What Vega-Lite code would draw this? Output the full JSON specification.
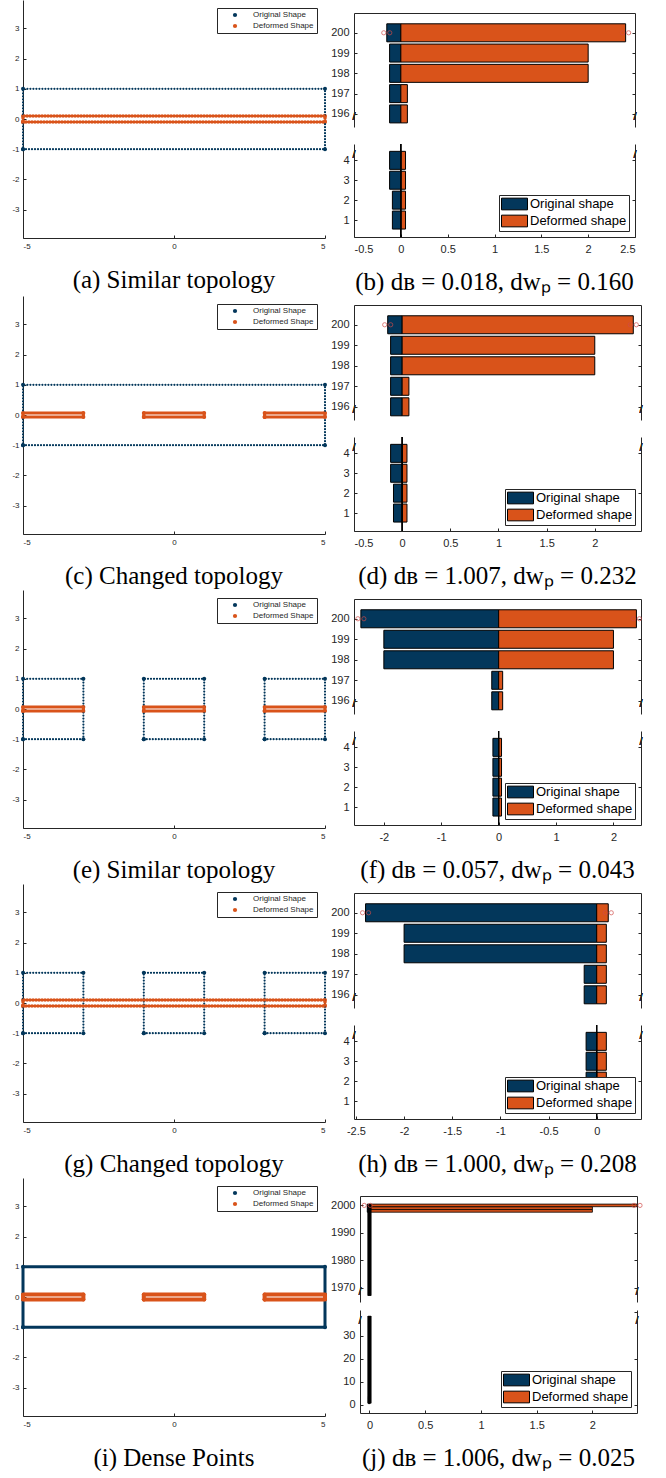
{
"$schema": "https://vega.github.io/schema/vega-lite/v6.json",
"padding": {"left": 11, "top": 0, "right": 0, "bottom": 0},
"background": "white",
"config": {
 "view": {"stroke": null},
 "axis": {"grid": false, "domainColor": "#262626", "tickColor": "#262626", "labelColor": "#262626", "labelFont": "Liberation Sans", "domainWidth": 1, "tickWidth": 1},
 "axisY": {"minExtent": 0},
 "title": {"font": "Liberation Serif", "fontSize": 25, "fontWeight": "normal", "color": "black", "orient": "bottom"},
 "legend": {"title": null},
 "text": {"font": "Liberation Sans", "fontSize": 11, "color": "#262626", "align": "center"}
},
"datasets": {
 "shapes": [
  {"p":"a","s":"Original Shape","g":1,"o":1,"x":-5,"y":-1},{"p":"a","s":"Original Shape","g":1,"o":2,"x":5,"y":-1},{"p":"a","s":"Original Shape","g":1,"o":3,"x":5,"y":1},{"p":"a","s":"Original Shape","g":1,"o":4,"x":-5,"y":1},{"p":"a","s":"Original Shape","g":1,"o":5,"x":-5,"y":-1},
  {"p":"a","s":"Deformed Shape","g":2,"o":1,"x":-5,"y":-0.1},{"p":"a","s":"Deformed Shape","g":2,"o":2,"x":5,"y":-0.1},{"p":"a","s":"Deformed Shape","g":2,"o":3,"x":5,"y":0.1},{"p":"a","s":"Deformed Shape","g":2,"o":4,"x":-5,"y":0.1},{"p":"a","s":"Deformed Shape","g":2,"o":5,"x":-5,"y":-0.1},

  {"p":"c","s":"Original Shape","g":1,"o":1,"x":-5,"y":-1},{"p":"c","s":"Original Shape","g":1,"o":2,"x":5,"y":-1},{"p":"c","s":"Original Shape","g":1,"o":3,"x":5,"y":1},{"p":"c","s":"Original Shape","g":1,"o":4,"x":-5,"y":1},{"p":"c","s":"Original Shape","g":1,"o":5,"x":-5,"y":-1},
  {"p":"c","s":"Deformed Shape","g":2,"o":1,"x":-5,"y":-0.07},{"p":"c","s":"Deformed Shape","g":2,"o":2,"x":-3,"y":-0.07},{"p":"c","s":"Deformed Shape","g":2,"o":3,"x":-3,"y":0.07},{"p":"c","s":"Deformed Shape","g":2,"o":4,"x":-5,"y":0.07},{"p":"c","s":"Deformed Shape","g":2,"o":5,"x":-5,"y":-0.07},
  {"p":"c","s":"Deformed Shape","g":3,"o":1,"x":-1,"y":-0.07},{"p":"c","s":"Deformed Shape","g":3,"o":2,"x":1,"y":-0.07},{"p":"c","s":"Deformed Shape","g":3,"o":3,"x":1,"y":0.07},{"p":"c","s":"Deformed Shape","g":3,"o":4,"x":-1,"y":0.07},{"p":"c","s":"Deformed Shape","g":3,"o":5,"x":-1,"y":-0.07},
  {"p":"c","s":"Deformed Shape","g":4,"o":1,"x":3,"y":-0.07},{"p":"c","s":"Deformed Shape","g":4,"o":2,"x":5,"y":-0.07},{"p":"c","s":"Deformed Shape","g":4,"o":3,"x":5,"y":0.07},{"p":"c","s":"Deformed Shape","g":4,"o":4,"x":3,"y":0.07},{"p":"c","s":"Deformed Shape","g":4,"o":5,"x":3,"y":-0.07},

  {"p":"e","s":"Original Shape","g":1,"o":1,"x":-5,"y":-1},{"p":"e","s":"Original Shape","g":1,"o":2,"x":-3,"y":-1},{"p":"e","s":"Original Shape","g":1,"o":3,"x":-3,"y":1},{"p":"e","s":"Original Shape","g":1,"o":4,"x":-5,"y":1},{"p":"e","s":"Original Shape","g":1,"o":5,"x":-5,"y":-1},
  {"p":"e","s":"Original Shape","g":2,"o":1,"x":-1,"y":-1},{"p":"e","s":"Original Shape","g":2,"o":2,"x":1,"y":-1},{"p":"e","s":"Original Shape","g":2,"o":3,"x":1,"y":1},{"p":"e","s":"Original Shape","g":2,"o":4,"x":-1,"y":1},{"p":"e","s":"Original Shape","g":2,"o":5,"x":-1,"y":-1},
  {"p":"e","s":"Original Shape","g":3,"o":1,"x":3,"y":-1},{"p":"e","s":"Original Shape","g":3,"o":2,"x":5,"y":-1},{"p":"e","s":"Original Shape","g":3,"o":3,"x":5,"y":1},{"p":"e","s":"Original Shape","g":3,"o":4,"x":3,"y":1},{"p":"e","s":"Original Shape","g":3,"o":5,"x":3,"y":-1},
  {"p":"e","s":"Deformed Shape","g":4,"o":1,"x":-5,"y":-0.07},{"p":"e","s":"Deformed Shape","g":4,"o":2,"x":-3,"y":-0.07},{"p":"e","s":"Deformed Shape","g":4,"o":3,"x":-3,"y":0.07},{"p":"e","s":"Deformed Shape","g":4,"o":4,"x":-5,"y":0.07},{"p":"e","s":"Deformed Shape","g":4,"o":5,"x":-5,"y":-0.07},
  {"p":"e","s":"Deformed Shape","g":5,"o":1,"x":-1,"y":-0.07},{"p":"e","s":"Deformed Shape","g":5,"o":2,"x":1,"y":-0.07},{"p":"e","s":"Deformed Shape","g":5,"o":3,"x":1,"y":0.07},{"p":"e","s":"Deformed Shape","g":5,"o":4,"x":-1,"y":0.07},{"p":"e","s":"Deformed Shape","g":5,"o":5,"x":-1,"y":-0.07},
  {"p":"e","s":"Deformed Shape","g":6,"o":1,"x":3,"y":-0.07},{"p":"e","s":"Deformed Shape","g":6,"o":2,"x":5,"y":-0.07},{"p":"e","s":"Deformed Shape","g":6,"o":3,"x":5,"y":0.07},{"p":"e","s":"Deformed Shape","g":6,"o":4,"x":3,"y":0.07},{"p":"e","s":"Deformed Shape","g":6,"o":5,"x":3,"y":-0.07},

  {"p":"g","s":"Original Shape","g":1,"o":1,"x":-5,"y":-1},{"p":"g","s":"Original Shape","g":1,"o":2,"x":-3,"y":-1},{"p":"g","s":"Original Shape","g":1,"o":3,"x":-3,"y":1},{"p":"g","s":"Original Shape","g":1,"o":4,"x":-5,"y":1},{"p":"g","s":"Original Shape","g":1,"o":5,"x":-5,"y":-1},
  {"p":"g","s":"Original Shape","g":2,"o":1,"x":-1,"y":-1},{"p":"g","s":"Original Shape","g":2,"o":2,"x":1,"y":-1},{"p":"g","s":"Original Shape","g":2,"o":3,"x":1,"y":1},{"p":"g","s":"Original Shape","g":2,"o":4,"x":-1,"y":1},{"p":"g","s":"Original Shape","g":2,"o":5,"x":-1,"y":-1},
  {"p":"g","s":"Original Shape","g":3,"o":1,"x":3,"y":-1},{"p":"g","s":"Original Shape","g":3,"o":2,"x":5,"y":-1},{"p":"g","s":"Original Shape","g":3,"o":3,"x":5,"y":1},{"p":"g","s":"Original Shape","g":3,"o":4,"x":3,"y":1},{"p":"g","s":"Original Shape","g":3,"o":5,"x":3,"y":-1},
  {"p":"g","s":"Deformed Shape","g":4,"o":1,"x":-5,"y":-0.1},{"p":"g","s":"Deformed Shape","g":4,"o":2,"x":5,"y":-0.1},{"p":"g","s":"Deformed Shape","g":4,"o":3,"x":5,"y":0.1},{"p":"g","s":"Deformed Shape","g":4,"o":4,"x":-5,"y":0.1},{"p":"g","s":"Deformed Shape","g":4,"o":5,"x":-5,"y":-0.1},

  {"p":"i","s":"Original Shape","g":1,"o":1,"x":-5,"y":-1},{"p":"i","s":"Original Shape","g":1,"o":2,"x":5,"y":-1},{"p":"i","s":"Original Shape","g":1,"o":3,"x":5,"y":1},{"p":"i","s":"Original Shape","g":1,"o":4,"x":-5,"y":1},{"p":"i","s":"Original Shape","g":1,"o":5,"x":-5,"y":-1},
  {"p":"i","s":"Deformed Shape","g":2,"o":1,"x":-5,"y":-0.08},{"p":"i","s":"Deformed Shape","g":2,"o":2,"x":-3,"y":-0.08},{"p":"i","s":"Deformed Shape","g":2,"o":3,"x":-3,"y":0.08},{"p":"i","s":"Deformed Shape","g":2,"o":4,"x":-5,"y":0.08},{"p":"i","s":"Deformed Shape","g":2,"o":5,"x":-5,"y":-0.08},
  {"p":"i","s":"Deformed Shape","g":3,"o":1,"x":-1,"y":-0.08},{"p":"i","s":"Deformed Shape","g":3,"o":2,"x":1,"y":-0.08},{"p":"i","s":"Deformed Shape","g":3,"o":3,"x":1,"y":0.08},{"p":"i","s":"Deformed Shape","g":3,"o":4,"x":-1,"y":0.08},{"p":"i","s":"Deformed Shape","g":3,"o":5,"x":-1,"y":-0.08},
  {"p":"i","s":"Deformed Shape","g":4,"o":1,"x":3,"y":-0.08},{"p":"i","s":"Deformed Shape","g":4,"o":2,"x":5,"y":-0.08},{"p":"i","s":"Deformed Shape","g":4,"o":3,"x":5,"y":0.08},{"p":"i","s":"Deformed Shape","g":4,"o":4,"x":3,"y":0.08},{"p":"i","s":"Deformed Shape","g":4,"o":5,"x":3,"y":-0.08}
 ],
 "bars": [
  {"p":"b","i":200,"Original shape":-0.15,"Deformed shape":2.4},{"p":"b","i":199,"Original shape":-0.12,"Deformed shape":2.0},{"p":"b","i":198,"Original shape":-0.12,"Deformed shape":2.0},{"p":"b","i":197,"Original shape":-0.12,"Deformed shape":0.07},{"p":"b","i":196,"Original shape":-0.12,"Deformed shape":0.07},
  {"p":"b","i":4,"Original shape":-0.12,"Deformed shape":0.05},{"p":"b","i":3,"Original shape":-0.12,"Deformed shape":0.05},{"p":"b","i":2,"Original shape":-0.09,"Deformed shape":0.05},{"p":"b","i":1,"Original shape":-0.09,"Deformed shape":0.05},
  {"p":"d","i":200,"Original shape":-0.15,"Deformed shape":2.4},{"p":"d","i":199,"Original shape":-0.12,"Deformed shape":2.0},{"p":"d","i":198,"Original shape":-0.12,"Deformed shape":2.0},{"p":"d","i":197,"Original shape":-0.12,"Deformed shape":0.07},{"p":"d","i":196,"Original shape":-0.12,"Deformed shape":0.07},
  {"p":"d","i":4,"Original shape":-0.12,"Deformed shape":0.05},{"p":"d","i":3,"Original shape":-0.12,"Deformed shape":0.05},{"p":"d","i":2,"Original shape":-0.09,"Deformed shape":0.05},{"p":"d","i":1,"Original shape":-0.09,"Deformed shape":0.05},
  {"p":"f","i":200,"Original shape":-2.4,"Deformed shape":2.4},{"p":"f","i":199,"Original shape":-2.0,"Deformed shape":2.0},{"p":"f","i":198,"Original shape":-2.0,"Deformed shape":2.0},{"p":"f","i":197,"Original shape":-0.12,"Deformed shape":0.07},{"p":"f","i":196,"Original shape":-0.12,"Deformed shape":0.07},
  {"p":"f","i":4,"Original shape":-0.1,"Deformed shape":0.05},{"p":"f","i":3,"Original shape":-0.1,"Deformed shape":0.05},{"p":"f","i":2,"Original shape":-0.1,"Deformed shape":0.05},{"p":"f","i":1,"Original shape":-0.1,"Deformed shape":0.05},
  {"p":"h","i":200,"Original shape":-2.4,"Deformed shape":0.12},{"p":"h","i":199,"Original shape":-2.0,"Deformed shape":0.1},{"p":"h","i":198,"Original shape":-2.0,"Deformed shape":0.1},{"p":"h","i":197,"Original shape":-0.13,"Deformed shape":0.1},{"p":"h","i":196,"Original shape":-0.13,"Deformed shape":0.1},
  {"p":"h","i":4,"Original shape":-0.11,"Deformed shape":0.1},{"p":"h","i":3,"Original shape":-0.11,"Deformed shape":0.1},{"p":"h","i":2,"Original shape":-0.11,"Deformed shape":0.1},{"p":"h","i":1,"Original shape":-0.11,"Deformed shape":0.1},
  {"p":"j","i":2000,"Original shape":-0.02,"Deformed shape":2.4},{"p":"j","i":1999,"Original shape":-0.02,"Deformed shape":2.0},{"p":"j","i":1998,"Original shape":-0.02,"Deformed shape":2.0},
  {"p":"j","i":3,"Original shape":-0.01,"Deformed shape":0.005},{"p":"j","i":2,"Original shape":-0.01,"Deformed shape":0.005},{"p":"j","i":1,"Original shape":-0.01,"Deformed shape":0.005}
 ]
},
"resolve": {"scale": {"x": "independent", "y": "independent", "color": "independent"}, "legend": {"color": "independent"}},
"spacing": 1,
"vconcat": [
 {
  "resolve": {"scale": {"x": "independent", "y": "independent", "color": "independent"}, "legend": {"color": "independent"}},
  "spacing": 3,
  "hconcat": [
   {
    "width": 302, "height": 238,
    "title": {"text": "(a) Similar topology", "offset": 18},
    "data": {"name": "shapes"},
    "transform": [{"filter": "datum.p==='a'"}],
    "encoding": {
     "x": {"field": "x", "type": "quantitative", "scale": {"domain": [-5, 5], "nice": false, "zero": false}, "axis": {"values": [-5, 0, 5], "title": null, "labelFontSize": 8, "tickSize": -3, "labelPadding": 7, "labelExpr": "replace(datum.label,'−','-')"}},
     "y": {"field": "y", "type": "quantitative", "scale": {"domain": [-3.94, 3.94], "nice": false, "zero": false}, "axis": {"values": [-3, -2, -1, 0, 1, 2, 3], "title": null, "labelFontSize": 8, "tickSize": -3, "labelPadding": 7, "labelExpr": "replace(datum.label,'−','-')"}}
    },
    "layer": [
     {"mark": {"type": "point", "filled": true, "size": 16, "opacity": 1}, "encoding": {"color": {"field": "s", "type": "nominal", "scale": {"domain": ["Original Shape", "Deformed Shape"], "range": ["#03375b", "#d9531a"]}, "legend": {"orient": "top-right", "offset": 8, "symbolType": "circle", "symbolSize": 18, "labelFontSize": 8, "labelFont": "Liberation Sans", "labelColor": "#262626", "symbolOffset": 11, "labelOffset": 14, "rowPadding": 3, "padding": 3, "strokeColor": "#262626", "fillColor": "white"}}}},
     {"transform": [{"filter": "datum.s==='Original Shape'"}], "mark": {"type": "line", "color": "#03375b", "strokeWidth": 2.2, "strokeDash": [0, 3], "strokeCap": "round", "strokeJoin": "round"}, "encoding": {"detail": {"field": "g", "type": "nominal"}, "order": {"field": "o", "type": "quantitative"}}},
     {"transform": [{"filter": "datum.s==='Deformed Shape'"}], "mark": {"type": "line", "color": "#d9531a", "strokeWidth": 3.5, "strokeDash": [0, 3], "strokeCap": "round", "strokeJoin": "round"}, "encoding": {"detail": {"field": "g", "type": "nominal"}, "order": {"field": "o", "type": "quantitative"}}}
    ]
   },
   {
    "resolve": {"scale": {"x": "independent", "y": "independent", "color": "independent"}, "legend": {"color": "independent"}},
    "spacing": 16,
    "vconcat": [
     {
      "width": 281, "height": 127,
      "data": {"name": "bars"},
      "transform": [{"filter": "datum.p==='b' && datum.i>100"}],
      "layer": [
       {"mark": {"type": "bar", "size": 18, "stroke": "black", "strokeWidth": 1}, "encoding": {
         "y": {"field": "i", "type": "quantitative", "scale": {"domain": [195.6, 200.73], "range": [127, 13], "nice": false, "zero": false}, "axis": {"orient": "left", "values": [196, 197, 198, 199, 200], "format": "d", "title": null, "labelFontSize": 11, "tickSize": -3, "labelPadding": 8}},
         "x": {"field": "Original shape", "type": "quantitative", "scale": {"domain": [-0.5, 2.5], "nice": false, "zero": false}, "axis": {"orient": "top", "labels": false, "ticks": false, "title": null, "offset": -13, "minExtent": 0}},
         "x2": {"datum": 0},
         "color": {"datum": "Original shape", "scale": {"domain": ["Original shape", "Deformed shape"], "range": ["#03375b", "#d9531a"]}, "legend": null}}},
       {"mark": {"type": "bar", "size": 18, "stroke": "black", "strokeWidth": 1}, "encoding": {
         "y": {"field": "i", "type": "quantitative", "axis": {"orient": "right", "labels": false, "title": null, "tickSize": -3}},
         "x": {"field": "Deformed shape", "type": "quantitative", "axis": null},
         "x2": {"datum": 0},
         "color": {"datum": "Deformed shape", "legend": null}}},
       {"transform": [{"filter": "datum.i===200 || datum.i===2000"}, {"fold": ["Original shape", "Deformed shape"], "as": ["k", "v"]}], "mark": {"type": "point", "shape": "circle", "filled": false, "size": 18, "color": "#d24b48", "strokeWidth": 1, "xOffset": -3}, "encoding": {"x": {"field": "v", "type": "quantitative", "axis": null}, "y": {"field": "i", "type": "quantitative", "axis": null}}},
       {"transform": [{"filter": "datum.i===200 || datum.i===2000"}, {"fold": ["Original shape", "Deformed shape"], "as": ["k", "v"]}], "mark": {"type": "point", "shape": "circle", "filled": false, "size": 18, "color": "#d24b48", "strokeWidth": 1, "xOffset": 3}, "encoding": {"x": {"field": "v", "type": "quantitative", "axis": null}, "y": {"field": "i", "type": "quantitative", "axis": null}}},
       {"mark": {"type": "text", "text": "/", "baseline": "bottom"}, "encoding": {"x": {"datum": -0.5, "type": "quantitative", "axis": null}, "y": {"datum": 195.6, "type": "quantitative", "axis": null}}},
       {"mark": {"type": "text", "text": "/", "baseline": "bottom"}, "encoding": {"x": {"datum": 2.5, "type": "quantitative", "axis": null}, "y": {"datum": 195.6, "type": "quantitative", "axis": null}}}
      ],
      "resolve": {"axis": {"x": "independent", "y": "independent"}}
     },
     {
      "width": 281, "height": 93,
      "title": {"text": "(b) dʙ = 0.018,  dᴡₚ = 0.160", "offset": 16},
      "data": {"name": "bars"},
      "transform": [{"filter": "datum.p==='b' && datum.i<100"}],
      "layer": [
       {"mark": {"type": "bar", "size": 18, "stroke": "black", "strokeWidth": 1}, "encoding": {
         "y": {"field": "i", "type": "quantitative", "scale": {"domain": [0.4, 4.57], "nice": false, "zero": false}, "axis": {"orient": "left", "values": [1, 2, 3, 4], "format": "d", "title": null, "labelFontSize": 11, "tickSize": -3, "labelPadding": 8}},
         "x": {"field": "Original shape", "type": "quantitative", "scale": {"domain": [-0.5, 2.5], "nice": false, "zero": false}, "axis": {"orient": "bottom", "values": [-0.5, 0, 0.5, 1, 1.5, 2, 2.5], "format": "~g", "title": null, "labelFontSize": 11, "tickSize": -3, "labelPadding": 9, "labelExpr": "replace(datum.label,'−','-')"}},
         "x2": {"datum": 0},
         "color": {"datum": "Original shape", "scale": {"domain": ["Original shape", "Deformed shape"], "range": ["#03375b", "#d9531a"]}, "legend": {"orient": "bottom-right", "offset": 6, "symbolType": "M-2,-0.9H2V0.9H-2Z", "symbolSize": 169, "symbolOffset": 6.5, "symbolStrokeColor": "black", "symbolStrokeWidth": 1, "labelFontSize": 13, "labelFont": "Liberation Sans", "labelColor": "black", "labelOffset": 8.5, "rowPadding": 1, "padding": 2, "strokeColor": "#262626", "fillColor": "white"}}}},
       {"mark": {"type": "bar", "size": 18, "stroke": "black", "strokeWidth": 1}, "encoding": {
         "y": {"field": "i", "type": "quantitative", "axis": {"orient": "right", "labels": false, "title": null, "tickSize": -3}},
         "x": {"field": "Deformed shape", "type": "quantitative", "axis": null},
         "x2": {"datum": 0},
         "color": {"datum": "Deformed shape"}}},
       {"mark": {"type": "rule", "color": "black", "strokeWidth": 1}, "encoding": {"x": {"datum": 0, "type": "quantitative", "axis": null}}},
       {"mark": {"type": "text", "text": "/", "baseline": "top"}, "encoding": {"x": {"datum": -0.5, "type": "quantitative", "axis": null}, "y": {"datum": 4.57, "type": "quantitative", "axis": null}}},
       {"mark": {"type": "text", "text": "/", "baseline": "top"}, "encoding": {"x": {"datum": 2.5, "type": "quantitative", "axis": null}, "y": {"datum": 4.57, "type": "quantitative", "axis": null}}}
      ],
      "resolve": {"axis": {"x": "independent", "y": "independent"}}
     }
    ]
   }
  ]
 },
 {
  "resolve": {"scale": {"x": "independent", "y": "independent", "color": "independent"}, "legend": {"color": "independent"}},
  "spacing": 3,
  "hconcat": [
   {
    "width": 302, "height": 238,
    "title": {"text": "(c) Changed topology", "offset": 18},
    "data": {"name": "shapes"},
    "transform": [{"filter": "datum.p==='c'"}],
    "encoding": {
     "x": {"field": "x", "type": "quantitative", "scale": {"domain": [-5, 5], "nice": false, "zero": false}, "axis": {"values": [-5, 0, 5], "title": null, "labelFontSize": 8, "tickSize": -3, "labelPadding": 7, "labelExpr": "replace(datum.label,'−','-')"}},
     "y": {"field": "y", "type": "quantitative", "scale": {"domain": [-3.94, 3.94], "nice": false, "zero": false}, "axis": {"values": [-3, -2, -1, 0, 1, 2, 3], "title": null, "labelFontSize": 8, "tickSize": -3, "labelPadding": 7, "labelExpr": "replace(datum.label,'−','-')"}}
    },
    "layer": [
     {"mark": {"type": "point", "filled": true, "size": 16, "opacity": 1}, "encoding": {"color": {"field": "s", "type": "nominal", "scale": {"domain": ["Original Shape", "Deformed Shape"], "range": ["#03375b", "#d9531a"]}, "legend": {"orient": "top-right", "offset": 8, "symbolType": "circle", "symbolSize": 18, "labelFontSize": 8, "labelFont": "Liberation Sans", "labelColor": "#262626", "symbolOffset": 11, "labelOffset": 14, "rowPadding": 3, "padding": 3, "strokeColor": "#262626", "fillColor": "white"}}}},
     {"transform": [{"filter": "datum.s==='Original Shape'"}], "mark": {"type": "line", "color": "#03375b", "strokeWidth": 2.2, "strokeDash": [0, 3], "strokeCap": "round", "strokeJoin": "round"}, "encoding": {"detail": {"field": "g", "type": "nominal"}, "order": {"field": "o", "type": "quantitative"}}},
     {"transform": [{"filter": "datum.s==='Deformed Shape'"}], "mark": {"type": "line", "color": "#d9531a", "strokeWidth": 3, "strokeCap": "round", "strokeJoin": "round"}, "encoding": {"detail": {"field": "g", "type": "nominal"}, "order": {"field": "o", "type": "quantitative"}}}
    ]
   },
   {
    "resolve": {"scale": {"x": "independent", "y": "independent", "color": "independent"}, "legend": {"color": "independent"}},
    "spacing": 16,
    "vconcat": [
     {
      "width": 287, "height": 124,
      "data": {"name": "bars"},
      "transform": [{"filter": "datum.p==='d' && datum.i>100"}],
      "layer": [
       {"mark": {"type": "bar", "size": 18, "stroke": "black", "strokeWidth": 1}, "encoding": {
         "y": {"field": "i", "type": "quantitative", "scale": {"domain": [195.6, 200.72], "range": [124, 9], "nice": false, "zero": false}, "axis": {"orient": "left", "values": [196, 197, 198, 199, 200], "format": "d", "title": null, "labelFontSize": 11, "tickSize": -3, "labelPadding": 8}},
         "x": {"field": "Original shape", "type": "quantitative", "scale": {"domain": [-0.5, 2.48], "nice": false, "zero": false}, "axis": {"orient": "top", "labels": false, "ticks": false, "title": null, "offset": -9, "minExtent": 0}},
         "x2": {"datum": 0},
         "color": {"datum": "Original shape", "scale": {"domain": ["Original shape", "Deformed shape"], "range": ["#03375b", "#d9531a"]}, "legend": null}}},
       {"mark": {"type": "bar", "size": 18, "stroke": "black", "strokeWidth": 1}, "encoding": {
         "y": {"field": "i", "type": "quantitative", "axis": {"orient": "right", "labels": false, "title": null, "tickSize": -3}},
         "x": {"field": "Deformed shape", "type": "quantitative", "axis": null},
         "x2": {"datum": 0},
         "color": {"datum": "Deformed shape", "legend": null}}},
       {"transform": [{"filter": "datum.i===200 || datum.i===2000"}, {"fold": ["Original shape", "Deformed shape"], "as": ["k", "v"]}], "mark": {"type": "point", "shape": "circle", "filled": false, "size": 18, "color": "#d24b48", "strokeWidth": 1, "xOffset": -3}, "encoding": {"x": {"field": "v", "type": "quantitative", "axis": null}, "y": {"field": "i", "type": "quantitative", "axis": null}}},
       {"transform": [{"filter": "datum.i===200 || datum.i===2000"}, {"fold": ["Original shape", "Deformed shape"], "as": ["k", "v"]}], "mark": {"type": "point", "shape": "circle", "filled": false, "size": 18, "color": "#d24b48", "strokeWidth": 1, "xOffset": 3}, "encoding": {"x": {"field": "v", "type": "quantitative", "axis": null}, "y": {"field": "i", "type": "quantitative", "axis": null}}},
       {"mark": {"type": "text", "text": "/", "baseline": "bottom"}, "encoding": {"x": {"datum": -0.5, "type": "quantitative", "axis": null}, "y": {"datum": 195.6, "type": "quantitative", "axis": null}}},
       {"mark": {"type": "text", "text": "/", "baseline": "bottom"}, "encoding": {"x": {"datum": 2.48, "type": "quantitative", "axis": null}, "y": {"datum": 195.6, "type": "quantitative", "axis": null}}}
      ],
      "resolve": {"axis": {"x": "independent", "y": "independent"}}
     },
     {
      "width": 287, "height": 94,
      "title": {"text": "(d) dʙ = 1.007,  dᴡₚ = 0.232", "offset": 16},
      "data": {"name": "bars"},
      "transform": [{"filter": "datum.p==='d' && datum.i<100"}],
      "layer": [
       {"mark": {"type": "bar", "size": 18, "stroke": "black", "strokeWidth": 1}, "encoding": {
         "y": {"field": "i", "type": "quantitative", "scale": {"domain": [0.35, 4.57], "nice": false, "zero": false}, "axis": {"orient": "left", "values": [1, 2, 3, 4], "format": "d", "title": null, "labelFontSize": 11, "tickSize": -3, "labelPadding": 8}},
         "x": {"field": "Original shape", "type": "quantitative", "scale": {"domain": [-0.5, 2.48], "nice": false, "zero": false}, "axis": {"orient": "bottom", "values": [-0.5, 0, 0.5, 1, 1.5, 2], "format": "~g", "title": null, "labelFontSize": 11, "tickSize": -3, "labelPadding": 9, "labelExpr": "replace(datum.label,'−','-')"}},
         "x2": {"datum": 0},
         "color": {"datum": "Original shape", "scale": {"domain": ["Original shape", "Deformed shape"], "range": ["#03375b", "#d9531a"]}, "legend": {"orient": "bottom-right", "offset": 6, "symbolType": "M-2,-0.9H2V0.9H-2Z", "symbolSize": 169, "symbolOffset": 6.5, "symbolStrokeColor": "black", "symbolStrokeWidth": 1, "labelFontSize": 13, "labelFont": "Liberation Sans", "labelColor": "black", "labelOffset": 8.5, "rowPadding": 1, "padding": 2, "strokeColor": "#262626", "fillColor": "white"}}}},
       {"mark": {"type": "bar", "size": 18, "stroke": "black", "strokeWidth": 1}, "encoding": {
         "y": {"field": "i", "type": "quantitative", "axis": {"orient": "right", "labels": false, "title": null, "tickSize": -3}},
         "x": {"field": "Deformed shape", "type": "quantitative", "axis": null},
         "x2": {"datum": 0},
         "color": {"datum": "Deformed shape"}}},
       {"mark": {"type": "rule", "color": "black", "strokeWidth": 1}, "encoding": {"x": {"datum": 0, "type": "quantitative", "axis": null}}},
       {"mark": {"type": "text", "text": "/", "baseline": "top"}, "encoding": {"x": {"datum": -0.5, "type": "quantitative", "axis": null}, "y": {"datum": 4.57, "type": "quantitative", "axis": null}}},
       {"mark": {"type": "text", "text": "/", "baseline": "top"}, "encoding": {"x": {"datum": 2.48, "type": "quantitative", "axis": null}, "y": {"datum": 4.57, "type": "quantitative", "axis": null}}}
      ],
      "resolve": {"axis": {"x": "independent", "y": "independent"}}
     }
    ]
   }
  ]
 },
 {
  "resolve": {"scale": {"x": "independent", "y": "independent", "color": "independent"}, "legend": {"color": "independent"}},
  "spacing": 3,
  "hconcat": [
   {
    "width": 302, "height": 238,
    "title": {"text": "(e) Similar topology", "offset": 18},
    "data": {"name": "shapes"},
    "transform": [{"filter": "datum.p==='e'"}],
    "encoding": {
     "x": {"field": "x", "type": "quantitative", "scale": {"domain": [-5, 5], "nice": false, "zero": false}, "axis": {"values": [-5, 0, 5], "title": null, "labelFontSize": 8, "tickSize": -3, "labelPadding": 7, "labelExpr": "replace(datum.label,'−','-')"}},
     "y": {"field": "y", "type": "quantitative", "scale": {"domain": [-3.94, 3.94], "nice": false, "zero": false}, "axis": {"values": [-3, -2, -1, 0, 1, 2, 3], "title": null, "labelFontSize": 8, "tickSize": -3, "labelPadding": 7, "labelExpr": "replace(datum.label,'−','-')"}}
    },
    "layer": [
     {"mark": {"type": "point", "filled": true, "size": 16, "opacity": 1}, "encoding": {"color": {"field": "s", "type": "nominal", "scale": {"domain": ["Original Shape", "Deformed Shape"], "range": ["#03375b", "#d9531a"]}, "legend": {"orient": "top-right", "offset": 8, "symbolType": "circle", "symbolSize": 18, "labelFontSize": 8, "labelFont": "Liberation Sans", "labelColor": "#262626", "symbolOffset": 11, "labelOffset": 14, "rowPadding": 3, "padding": 3, "strokeColor": "#262626", "fillColor": "white"}}}},
     {"transform": [{"filter": "datum.s==='Original Shape'"}], "mark": {"type": "line", "color": "#03375b", "strokeWidth": 2.2, "strokeDash": [0, 3], "strokeCap": "round", "strokeJoin": "round"}, "encoding": {"detail": {"field": "g", "type": "nominal"}, "order": {"field": "o", "type": "quantitative"}}},
     {"transform": [{"filter": "datum.s==='Deformed Shape'"}], "mark": {"type": "line", "color": "#d9531a", "strokeWidth": 3, "strokeCap": "round", "strokeJoin": "round"}, "encoding": {"detail": {"field": "g", "type": "nominal"}, "order": {"field": "o", "type": "quantitative"}}}
    ]
   },
   {
    "resolve": {"scale": {"x": "independent", "y": "independent", "color": "independent"}, "legend": {"color": "independent"}},
    "spacing": 16,
    "vconcat": [
     {
      "width": 287, "height": 124,
      "data": {"name": "bars"},
      "transform": [{"filter": "datum.p==='f' && datum.i>100"}],
      "layer": [
       {"mark": {"type": "bar", "size": 18, "stroke": "black", "strokeWidth": 1}, "encoding": {
         "y": {"field": "i", "type": "quantitative", "scale": {"domain": [195.6, 200.72], "range": [124, 9], "nice": false, "zero": false}, "axis": {"orient": "left", "values": [196, 197, 198, 199, 200], "format": "d", "title": null, "labelFontSize": 11, "tickSize": -3, "labelPadding": 8}},
         "x": {"field": "Original shape", "type": "quantitative", "scale": {"domain": [-2.52, 2.48], "nice": false, "zero": false}, "axis": {"orient": "top", "labels": false, "ticks": false, "title": null, "offset": -9, "minExtent": 0}},
         "x2": {"datum": 0},
         "color": {"datum": "Original shape", "scale": {"domain": ["Original shape", "Deformed shape"], "range": ["#03375b", "#d9531a"]}, "legend": null}}},
       {"mark": {"type": "bar", "size": 18, "stroke": "black", "strokeWidth": 1}, "encoding": {
         "y": {"field": "i", "type": "quantitative", "axis": {"orient": "right", "labels": false, "title": null, "tickSize": -3}},
         "x": {"field": "Deformed shape", "type": "quantitative", "axis": null},
         "x2": {"datum": 0},
         "color": {"datum": "Deformed shape", "legend": null}}},
       {"transform": [{"filter": "datum.i===200 || datum.i===2000"}, {"fold": ["Original shape", "Deformed shape"], "as": ["k", "v"]}], "mark": {"type": "point", "shape": "circle", "filled": false, "size": 18, "color": "#d24b48", "strokeWidth": 1, "xOffset": -3}, "encoding": {"x": {"field": "v", "type": "quantitative", "axis": null}, "y": {"field": "i", "type": "quantitative", "axis": null}}},
       {"transform": [{"filter": "datum.i===200 || datum.i===2000"}, {"fold": ["Original shape", "Deformed shape"], "as": ["k", "v"]}], "mark": {"type": "point", "shape": "circle", "filled": false, "size": 18, "color": "#d24b48", "strokeWidth": 1, "xOffset": 3}, "encoding": {"x": {"field": "v", "type": "quantitative", "axis": null}, "y": {"field": "i", "type": "quantitative", "axis": null}}},
       {"mark": {"type": "text", "text": "/", "baseline": "bottom"}, "encoding": {"x": {"datum": -2.52, "type": "quantitative", "axis": null}, "y": {"datum": 195.6, "type": "quantitative", "axis": null}}},
       {"mark": {"type": "text", "text": "/", "baseline": "bottom"}, "encoding": {"x": {"datum": 2.48, "type": "quantitative", "axis": null}, "y": {"datum": 195.6, "type": "quantitative", "axis": null}}}
      ],
      "resolve": {"axis": {"x": "independent", "y": "independent"}}
     },
     {
      "width": 287, "height": 94,
      "title": {"text": "(f) dʙ = 0.057,  dᴡₚ = 0.043", "offset": 16},
      "data": {"name": "bars"},
      "transform": [{"filter": "datum.p==='f' && datum.i<100"}],
      "layer": [
       {"mark": {"type": "bar", "size": 18, "stroke": "black", "strokeWidth": 1}, "encoding": {
         "y": {"field": "i", "type": "quantitative", "scale": {"domain": [0.35, 4.57], "nice": false, "zero": false}, "axis": {"orient": "left", "values": [1, 2, 3, 4], "format": "d", "title": null, "labelFontSize": 11, "tickSize": -3, "labelPadding": 8}},
         "x": {"field": "Original shape", "type": "quantitative", "scale": {"domain": [-2.52, 2.48], "nice": false, "zero": false}, "axis": {"orient": "bottom", "values": [-2, -1, 0, 1, 2], "format": "~g", "title": null, "labelFontSize": 11, "tickSize": -3, "labelPadding": 9, "labelExpr": "replace(datum.label,'−','-')"}},
         "x2": {"datum": 0},
         "color": {"datum": "Original shape", "scale": {"domain": ["Original shape", "Deformed shape"], "range": ["#03375b", "#d9531a"]}, "legend": {"orient": "bottom-right", "offset": 6, "symbolType": "M-2,-0.9H2V0.9H-2Z", "symbolSize": 169, "symbolOffset": 6.5, "symbolStrokeColor": "black", "symbolStrokeWidth": 1, "labelFontSize": 13, "labelFont": "Liberation Sans", "labelColor": "black", "labelOffset": 8.5, "rowPadding": 1, "padding": 2, "strokeColor": "#262626", "fillColor": "white"}}}},
       {"mark": {"type": "bar", "size": 18, "stroke": "black", "strokeWidth": 1}, "encoding": {
         "y": {"field": "i", "type": "quantitative", "axis": {"orient": "right", "labels": false, "title": null, "tickSize": -3}},
         "x": {"field": "Deformed shape", "type": "quantitative", "axis": null},
         "x2": {"datum": 0},
         "color": {"datum": "Deformed shape"}}},
       {"mark": {"type": "rule", "color": "black", "strokeWidth": 1}, "encoding": {"x": {"datum": 0, "type": "quantitative", "axis": null}}},
       {"mark": {"type": "text", "text": "/", "baseline": "top"}, "encoding": {"x": {"datum": -2.52, "type": "quantitative", "axis": null}, "y": {"datum": 4.57, "type": "quantitative", "axis": null}}},
       {"mark": {"type": "text", "text": "/", "baseline": "top"}, "encoding": {"x": {"datum": 2.48, "type": "quantitative", "axis": null}, "y": {"datum": 4.57, "type": "quantitative", "axis": null}}}
      ],
      "resolve": {"axis": {"x": "independent", "y": "independent"}}
     }
    ]
   }
  ]
 },
 {
  "resolve": {"scale": {"x": "independent", "y": "independent", "color": "independent"}, "legend": {"color": "independent"}},
  "spacing": 3,
  "hconcat": [
   {
    "width": 302, "height": 238,
    "title": {"text": "(g) Changed topology", "offset": 18},
    "data": {"name": "shapes"},
    "transform": [{"filter": "datum.p==='g'"}],
    "encoding": {
     "x": {"field": "x", "type": "quantitative", "scale": {"domain": [-5, 5], "nice": false, "zero": false}, "axis": {"values": [-5, 0, 5], "title": null, "labelFontSize": 8, "tickSize": -3, "labelPadding": 7, "labelExpr": "replace(datum.label,'−','-')"}},
     "y": {"field": "y", "type": "quantitative", "scale": {"domain": [-3.94, 3.94], "nice": false, "zero": false}, "axis": {"values": [-3, -2, -1, 0, 1, 2, 3], "title": null, "labelFontSize": 8, "tickSize": -3, "labelPadding": 7, "labelExpr": "replace(datum.label,'−','-')"}}
    },
    "layer": [
     {"mark": {"type": "point", "filled": true, "size": 16, "opacity": 1}, "encoding": {"color": {"field": "s", "type": "nominal", "scale": {"domain": ["Original Shape", "Deformed Shape"], "range": ["#03375b", "#d9531a"]}, "legend": {"orient": "top-right", "offset": 8, "symbolType": "circle", "symbolSize": 18, "labelFontSize": 8, "labelFont": "Liberation Sans", "labelColor": "#262626", "symbolOffset": 11, "labelOffset": 14, "rowPadding": 3, "padding": 3, "strokeColor": "#262626", "fillColor": "white"}}}},
     {"transform": [{"filter": "datum.s==='Original Shape'"}], "mark": {"type": "line", "color": "#03375b", "strokeWidth": 2.2, "strokeDash": [0, 3], "strokeCap": "round", "strokeJoin": "round"}, "encoding": {"detail": {"field": "g", "type": "nominal"}, "order": {"field": "o", "type": "quantitative"}}},
     {"transform": [{"filter": "datum.s==='Deformed Shape'"}], "mark": {"type": "line", "color": "#d9531a", "strokeWidth": 3.5, "strokeDash": [0, 3], "strokeCap": "round", "strokeJoin": "round"}, "encoding": {"detail": {"field": "g", "type": "nominal"}, "order": {"field": "o", "type": "quantitative"}}}
    ]
   },
   {
    "resolve": {"scale": {"x": "independent", "y": "independent", "color": "independent"}, "legend": {"color": "independent"}},
    "spacing": 16,
    "vconcat": [
     {
      "width": 287, "height": 124,
      "data": {"name": "bars"},
      "transform": [{"filter": "datum.p==='h' && datum.i>100"}],
      "layer": [
       {"mark": {"type": "bar", "size": 18, "stroke": "black", "strokeWidth": 1}, "encoding": {
         "y": {"field": "i", "type": "quantitative", "scale": {"domain": [195.6, 200.72], "range": [124, 9], "nice": false, "zero": false}, "axis": {"orient": "left", "values": [196, 197, 198, 199, 200], "format": "d", "title": null, "labelFontSize": 11, "tickSize": -3, "labelPadding": 8}},
         "x": {"field": "Original shape", "type": "quantitative", "scale": {"domain": [-2.52, 0.46], "nice": false, "zero": false}, "axis": {"orient": "top", "labels": false, "ticks": false, "title": null, "offset": -9, "minExtent": 0}},
         "x2": {"datum": 0},
         "color": {"datum": "Original shape", "scale": {"domain": ["Original shape", "Deformed shape"], "range": ["#03375b", "#d9531a"]}, "legend": null}}},
       {"mark": {"type": "bar", "size": 18, "stroke": "black", "strokeWidth": 1}, "encoding": {
         "y": {"field": "i", "type": "quantitative", "axis": {"orient": "right", "labels": false, "title": null, "tickSize": -3}},
         "x": {"field": "Deformed shape", "type": "quantitative", "axis": null},
         "x2": {"datum": 0},
         "color": {"datum": "Deformed shape", "legend": null}}},
       {"transform": [{"filter": "datum.i===200 || datum.i===2000"}, {"fold": ["Original shape", "Deformed shape"], "as": ["k", "v"]}], "mark": {"type": "point", "shape": "circle", "filled": false, "size": 18, "color": "#d24b48", "strokeWidth": 1, "xOffset": -3}, "encoding": {"x": {"field": "v", "type": "quantitative", "axis": null}, "y": {"field": "i", "type": "quantitative", "axis": null}}},
       {"transform": [{"filter": "datum.i===200 || datum.i===2000"}, {"fold": ["Original shape", "Deformed shape"], "as": ["k", "v"]}], "mark": {"type": "point", "shape": "circle", "filled": false, "size": 18, "color": "#d24b48", "strokeWidth": 1, "xOffset": 3}, "encoding": {"x": {"field": "v", "type": "quantitative", "axis": null}, "y": {"field": "i", "type": "quantitative", "axis": null}}},
       {"mark": {"type": "text", "text": "/", "baseline": "bottom"}, "encoding": {"x": {"datum": -2.52, "type": "quantitative", "axis": null}, "y": {"datum": 195.6, "type": "quantitative", "axis": null}}},
       {"mark": {"type": "text", "text": "/", "baseline": "bottom"}, "encoding": {"x": {"datum": 0.46, "type": "quantitative", "axis": null}, "y": {"datum": 195.6, "type": "quantitative", "axis": null}}}
      ],
      "resolve": {"axis": {"x": "independent", "y": "independent"}}
     },
     {
      "width": 287, "height": 94,
      "title": {"text": "(h) dʙ = 1.000,  dᴡₚ = 0.208", "offset": 16},
      "data": {"name": "bars"},
      "transform": [{"filter": "datum.p==='h' && datum.i<100"}],
      "layer": [
       {"mark": {"type": "bar", "size": 18, "stroke": "black", "strokeWidth": 1}, "encoding": {
         "y": {"field": "i", "type": "quantitative", "scale": {"domain": [0.35, 4.57], "nice": false, "zero": false}, "axis": {"orient": "left", "values": [1, 2, 3, 4], "format": "d", "title": null, "labelFontSize": 11, "tickSize": -3, "labelPadding": 8}},
         "x": {"field": "Original shape", "type": "quantitative", "scale": {"domain": [-2.52, 0.46], "nice": false, "zero": false}, "axis": {"orient": "bottom", "values": [-2.5, -2, -1.5, -1, -0.5, 0], "format": "~g", "title": null, "labelFontSize": 11, "tickSize": -3, "labelPadding": 9, "labelExpr": "replace(datum.label,'−','-')"}},
         "x2": {"datum": 0},
         "color": {"datum": "Original shape", "scale": {"domain": ["Original shape", "Deformed shape"], "range": ["#03375b", "#d9531a"]}, "legend": {"orient": "bottom-right", "offset": 6, "symbolType": "M-2,-0.9H2V0.9H-2Z", "symbolSize": 169, "symbolOffset": 6.5, "symbolStrokeColor": "black", "symbolStrokeWidth": 1, "labelFontSize": 13, "labelFont": "Liberation Sans", "labelColor": "black", "labelOffset": 8.5, "rowPadding": 1, "padding": 2, "strokeColor": "#262626", "fillColor": "white"}}}},
       {"mark": {"type": "bar", "size": 18, "stroke": "black", "strokeWidth": 1}, "encoding": {
         "y": {"field": "i", "type": "quantitative", "axis": {"orient": "right", "labels": false, "title": null, "tickSize": -3}},
         "x": {"field": "Deformed shape", "type": "quantitative", "axis": null},
         "x2": {"datum": 0},
         "color": {"datum": "Deformed shape"}}},
       {"mark": {"type": "rule", "color": "black", "strokeWidth": 1}, "encoding": {"x": {"datum": 0, "type": "quantitative", "axis": null}}},
       {"mark": {"type": "text", "text": "/", "baseline": "top"}, "encoding": {"x": {"datum": -2.52, "type": "quantitative", "axis": null}, "y": {"datum": 4.57, "type": "quantitative", "axis": null}}},
       {"mark": {"type": "text", "text": "/", "baseline": "top"}, "encoding": {"x": {"datum": 0.46, "type": "quantitative", "axis": null}, "y": {"datum": 4.57, "type": "quantitative", "axis": null}}}
      ],
      "resolve": {"axis": {"x": "independent", "y": "independent"}}
     }
    ]
   }
  ]
 },
 {
  "resolve": {"scale": {"x": "independent", "y": "independent", "color": "independent"}, "legend": {"color": "independent"}},
  "spacing": 3,
  "hconcat": [
   {
    "width": 302, "height": 238,
    "title": {"text": "(i) Dense Points", "offset": 18},
    "data": {"name": "shapes"},
    "transform": [{"filter": "datum.p==='i'"}],
    "encoding": {
     "x": {"field": "x", "type": "quantitative", "scale": {"domain": [-5, 5], "nice": false, "zero": false}, "axis": {"values": [-5, 0, 5], "title": null, "labelFontSize": 8, "tickSize": -3, "labelPadding": 7, "labelExpr": "replace(datum.label,'−','-')"}},
     "y": {"field": "y", "type": "quantitative", "scale": {"domain": [-3.94, 3.94], "nice": false, "zero": false}, "axis": {"values": [-3, -2, -1, 0, 1, 2, 3], "title": null, "labelFontSize": 8, "tickSize": -3, "labelPadding": 7, "labelExpr": "replace(datum.label,'−','-')"}}
    },
    "layer": [
     {"mark": {"type": "point", "filled": true, "size": 16, "opacity": 1}, "encoding": {"color": {"field": "s", "type": "nominal", "scale": {"domain": ["Original Shape", "Deformed Shape"], "range": ["#03375b", "#d9531a"]}, "legend": {"orient": "top-right", "offset": 8, "symbolType": "circle", "symbolSize": 18, "labelFontSize": 8, "labelFont": "Liberation Sans", "labelColor": "#262626", "symbolOffset": 11, "labelOffset": 14, "rowPadding": 3, "padding": 3, "strokeColor": "#262626", "fillColor": "white"}}}},
     {"transform": [{"filter": "datum.s==='Original Shape'"}], "mark": {"type": "line", "color": "#03375b", "strokeWidth": 3, "strokeCap": "round", "strokeJoin": "round"}, "encoding": {"detail": {"field": "g", "type": "nominal"}, "order": {"field": "o", "type": "quantitative"}}},
     {"transform": [{"filter": "datum.s==='Deformed Shape'"}], "mark": {"type": "line", "color": "#d9531a", "strokeWidth": 4, "strokeCap": "round", "strokeJoin": "round"}, "encoding": {"detail": {"field": "g", "type": "nominal"}, "order": {"field": "o", "type": "quantitative"}}}
    ]
   },
   {
    "resolve": {"scale": {"x": "independent", "y": "independent", "color": "independent"}, "legend": {"color": "independent"}},
    "spacing": 8,
    "vconcat": [
     {
      "width": 277, "height": 124,
      "data": {"name": "bars"},
      "transform": [{"filter": "datum.p==='j' && datum.i>100"}],
      "layer": [
       {"mark": {"type": "bar", "size": 2.6, "stroke": "black", "strokeWidth": 0.8}, "encoding": {
         "y": {"field": "i", "type": "quantitative", "scale": {"domain": [1966.7, 2001.6], "range": [124, 18], "nice": false, "zero": false}, "axis": {"orient": "left", "values": [1970, 1980, 1990, 2000], "format": "d", "title": null, "labelFontSize": 11, "tickSize": -3, "labelPadding": 8}},
         "x": {"field": "Original shape", "type": "quantitative", "scale": {"domain": [-0.085, 2.4], "nice": false, "zero": false}, "axis": {"orient": "top", "labels": false, "ticks": false, "title": null, "offset": -18, "minExtent": 0}},
         "x2": {"datum": 0},
         "color": {"datum": "Original shape", "scale": {"domain": ["Original shape", "Deformed shape"], "range": ["#03375b", "#d9531a"]}, "legend": null}}},
       {"mark": {"type": "bar", "size": 2.6, "stroke": "black", "strokeWidth": 0.8}, "encoding": {
         "y": {"field": "i", "type": "quantitative", "axis": {"orient": "right", "labels": false, "title": null, "tickSize": -3}},
         "x": {"field": "Deformed shape", "type": "quantitative", "axis": null},
         "x2": {"datum": 0},
         "color": {"datum": "Deformed shape", "legend": null}}},
       {"mark": {"type": "rule", "color": "black", "strokeWidth": 3.5}, "encoding": {"x": {"datum": 0, "type": "quantitative", "axis": null}, "y": {"datum": 2000.3, "type": "quantitative", "axis": null}, "y2": {"datum": 1967.2}}},
       {"transform": [{"filter": "datum.i===200 || datum.i===2000"}, {"fold": ["Original shape", "Deformed shape"], "as": ["k", "v"]}], "mark": {"type": "point", "shape": "circle", "filled": false, "size": 18, "color": "#d24b48", "strokeWidth": 1, "xOffset": -3}, "encoding": {"x": {"field": "v", "type": "quantitative", "axis": null}, "y": {"field": "i", "type": "quantitative", "axis": null}}},
       {"transform": [{"filter": "datum.i===200 || datum.i===2000"}, {"fold": ["Original shape", "Deformed shape"], "as": ["k", "v"]}], "mark": {"type": "point", "shape": "circle", "filled": false, "size": 18, "color": "#d24b48", "strokeWidth": 1, "xOffset": 3}, "encoding": {"x": {"field": "v", "type": "quantitative", "axis": null}, "y": {"field": "i", "type": "quantitative", "axis": null}}},
       {"mark": {"type": "text", "text": "/", "baseline": "bottom"}, "encoding": {"x": {"datum": -0.085, "type": "quantitative", "axis": null}, "y": {"datum": 1966.7, "type": "quantitative", "axis": null}}},
       {"mark": {"type": "text", "text": "/", "baseline": "bottom"}, "encoding": {"x": {"datum": 2.4, "type": "quantitative", "axis": null}, "y": {"datum": 1966.7, "type": "quantitative", "axis": null}}}
      ],
      "resolve": {"axis": {"x": "independent", "y": "independent"}}
     },
     {
      "width": 277, "height": 103,
      "title": {"text": "(j) dʙ = 1.006,  dᴡₚ = 0.025", "offset": 16},
      "data": {"name": "bars"},
      "transform": [{"filter": "datum.p==='j' && datum.i<100"}],
      "layer": [
       {"mark": {"type": "bar", "size": 2.6, "stroke": "black", "strokeWidth": 0.8}, "encoding": {
         "y": {"field": "i", "type": "quantitative", "scale": {"domain": [-1.46, 38.9], "nice": false, "zero": false}, "axis": {"orient": "left", "values": [0, 10, 20, 30], "format": "d", "title": null, "labelFontSize": 11, "tickSize": -3, "labelPadding": 8}},
         "x": {"field": "Original shape", "type": "quantitative", "scale": {"domain": [-0.085, 2.4], "nice": false, "zero": false}, "axis": {"orient": "bottom", "values": [0, 0.5, 1, 1.5, 2], "format": "~g", "title": null, "labelFontSize": 11, "tickSize": -3, "labelPadding": 9}},
         "x2": {"datum": 0},
         "color": {"datum": "Original shape", "scale": {"domain": ["Original shape", "Deformed shape"], "range": ["#03375b", "#d9531a"]}, "legend": {"orient": "bottom-right", "offset": 6, "symbolType": "M-2,-0.9H2V0.9H-2Z", "symbolSize": 169, "symbolOffset": 6.5, "symbolStrokeColor": "black", "symbolStrokeWidth": 1, "labelFontSize": 13, "labelFont": "Liberation Sans", "labelColor": "black", "labelOffset": 8.5, "rowPadding": 1, "padding": 2, "strokeColor": "#262626", "fillColor": "white"}}}},
       {"mark": {"type": "bar", "size": 2.6, "stroke": "black", "strokeWidth": 0.8}, "encoding": {
         "y": {"field": "i", "type": "quantitative", "axis": {"orient": "right", "labels": false, "title": null, "tickSize": -3}},
         "x": {"field": "Deformed shape", "type": "quantitative", "axis": null},
         "x2": {"datum": 0},
         "color": {"datum": "Deformed shape"}}},
       {"mark": {"type": "rule", "color": "black", "strokeWidth": 3.5}, "encoding": {"x": {"datum": 0, "type": "quantitative", "axis": null}, "y": {"datum": 38.5, "type": "quantitative", "axis": null}, "y2": {"datum": 0.6}}},
       {"mark": {"type": "text", "text": "/", "baseline": "top"}, "encoding": {"x": {"datum": -0.085, "type": "quantitative", "axis": null}, "y": {"datum": 38.9, "type": "quantitative", "axis": null}}},
       {"mark": {"type": "text", "text": "/", "baseline": "top"}, "encoding": {"x": {"datum": 2.4, "type": "quantitative", "axis": null}, "y": {"datum": 38.9, "type": "quantitative", "axis": null}}}
      ],
      "resolve": {"axis": {"x": "independent", "y": "independent"}}
     }
    ]
   }
  ]
 }
]
}
